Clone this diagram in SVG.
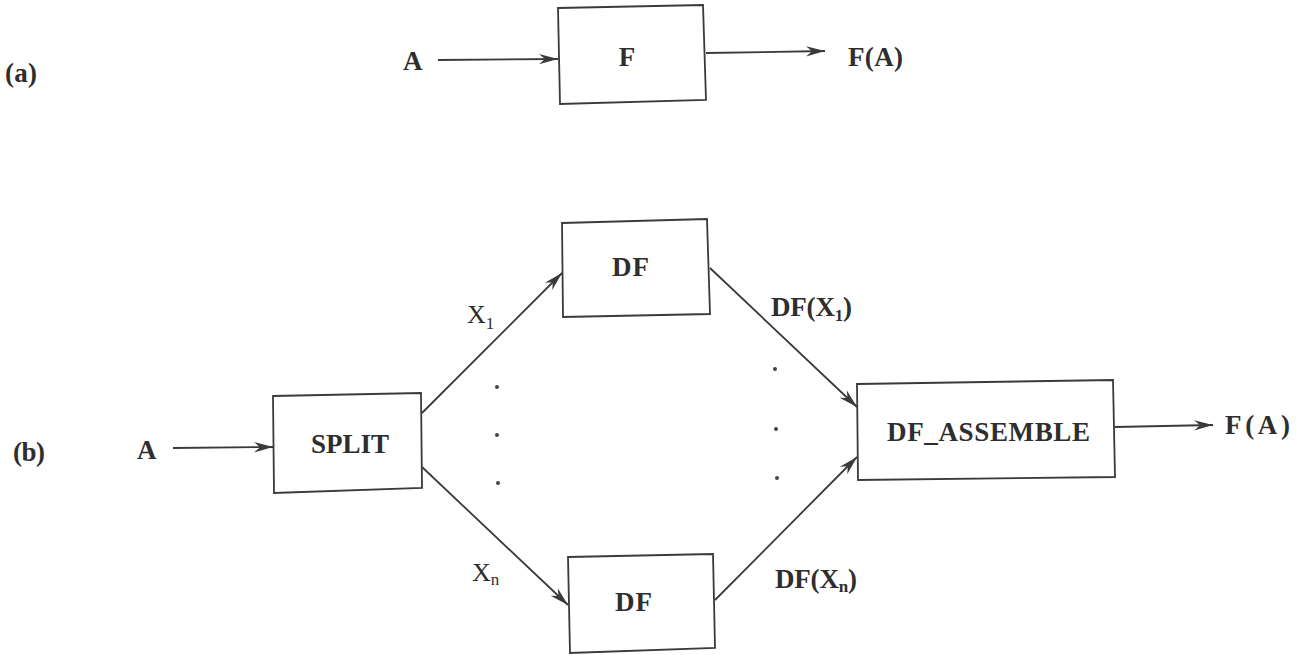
<svg xmlns="http://www.w3.org/2000/svg" width="1297" height="655" viewBox="0 0 1297 655">
<style>
.box{fill:none;stroke:#3a3a3a;stroke-width:1.8}
.edge{fill:none;stroke:#3a3a3a;stroke-width:1.8}
.t{font-family:"Liberation Serif","Times New Roman",serif;font-size:27px;font-weight:bold;fill:#2e2e2e}
.x{font-family:"Liberation Serif","Times New Roman",serif;font-size:26px;fill:#2e2e2e}
.sub{font-size:17px}
.dot{fill:#444}
</style>
<defs>
<marker id="arr" markerUnits="userSpaceOnUse" markerWidth="22" markerHeight="14" refX="19" refY="7" orient="auto">
<path d="M0,1.8 L19,7 L0,12.2 L6,7 z" fill="#3a3a3a"/>
</marker>
</defs>
<rect width="1297" height="655" fill="#ffffff"/>

<text class="t" x="5" y="82" textLength="32" lengthAdjust="spacing">(a)</text>
<text class="t" x="13" y="461" textLength="32" lengthAdjust="spacing">(b)</text>

<g id="inA_a"><text class="t" x="403" y="70">A</text></g>
<g id="F"><polygon class="box" points="558,8 703,5 706,100 560,104"/><text class="t" x="627" y="66" text-anchor="middle">F</text></g>
<g id="outFA_a"><text class="t" x="848" y="66" textLength="55" lengthAdjust="spacing">F(A)</text></g>

<g id="inA_b"><text class="t" x="137" y="459">A</text></g>
<g id="SPLIT"><polygon class="box" points="273,396 421,393 422,488 274,493"/><text class="t" x="311" y="453" textLength="78" lengthAdjust="spacing">SPLIT</text></g>
<g id="DF1"><polygon class="box" points="562,223 707,219 710,314 563,317"/><text class="t" x="612" y="276" textLength="37" lengthAdjust="spacing">DF</text></g>
<g id="DFn"><polygon class="box" points="568,557 713,554 715,648 570,653"/><text class="t" x="615" y="611" textLength="37" lengthAdjust="spacing">DF</text></g>
<g id="DF_ASSEMBLE"><polygon class="box" points="857,384 1113,380 1115,477 858,480"/><text class="t" x="887" y="441" textLength="203" lengthAdjust="spacing">DF_ASSEMBLE</text></g>
<g id="outFA_b"><text class="t" x="1225" y="434" textLength="65" lengthAdjust="spacing">F(A)</text></g>

<g id="connectors">
<line class="edge" x1="438" y1="60" x2="558" y2="59" marker-end="url(#arr)"/>
<line class="edge" x1="706" y1="53" x2="825" y2="51" marker-end="url(#arr)"/>
<line class="edge" x1="173" y1="448" x2="273" y2="447" marker-end="url(#arr)"/>
<line class="edge" x1="422" y1="413" x2="562" y2="273" marker-end="url(#arr)"/>
<line class="edge" x1="422" y1="467" x2="568" y2="605" marker-end="url(#arr)"/>
<line class="edge" x1="710" y1="268" x2="857" y2="407" marker-end="url(#arr)"/>
<line class="edge" x1="715" y1="600" x2="857" y2="457" marker-end="url(#arr)"/>
<line class="edge" x1="1115" y1="427" x2="1213" y2="425" marker-end="url(#arr)"/>
<text class="x" x="467" y="323">X<tspan class="sub" dy="6">1</tspan></text>
<text class="x" x="472" y="581">X<tspan class="sub" dy="4">n</tspan></text>
<text class="t" x="771" y="316" textLength="81" lengthAdjust="spacing">DF(X<tspan class="sub" dy="5">1</tspan><tspan dy="-5">)</tspan></text>
<text class="t" x="775" y="588" textLength="82" lengthAdjust="spacing">DF(X<tspan class="sub" dy="4">n</tspan><tspan dy="-4">)</tspan></text>
<circle class="dot" cx="497" cy="387" r="2"/>
<circle class="dot" cx="497" cy="435" r="2"/>
<circle class="dot" cx="498" cy="483" r="2"/>
<circle class="dot" cx="775" cy="369" r="2"/>
<circle class="dot" cx="776" cy="429" r="2"/>
<circle class="dot" cx="777" cy="478" r="2"/>
</g>
</svg>
